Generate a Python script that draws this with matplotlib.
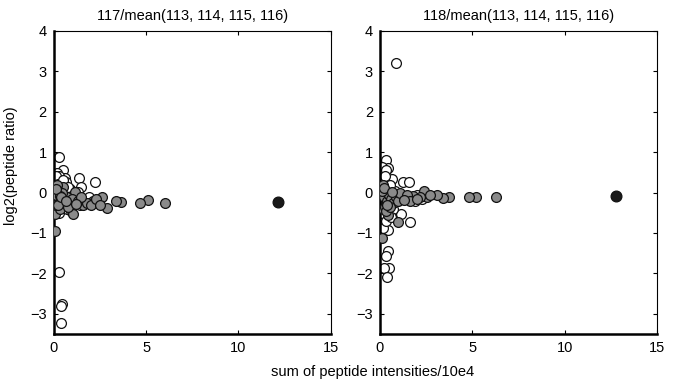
import matplotlib
matplotlib.use("Agg")
import matplotlib.pyplot as plt

plt.rcParams["font.family"] = ["Liberation Sans", "DejaVu Sans"]

# ---- data ----
titles = ["117/mean(113, 114, 115, 116)", "118/mean(113, 114, 115, 116)"]
xticks = [0, 5, 10, 15]
yticks = [-3, -2, -1, 0, 1, 2, 3, 4]

left_open_x = [0.27, 0.48, 0.2, 0.61, 1.35, 2.23, 1.5, 1.3, 0.29, 0.46, 0.37, 0.37,
               0.15, 0.3, 0.35, 0.1, 0.4, 0.6, 0.8, 0.9, 0.25, 0.5, 0.7, 1.0, 1.2, 1.7,
               1.9, 0.15, 0.45, 0.55, 0.65, 1.1, 0.05, 0.3, 0.8, 0.95, 1.4, 2.4, 0.2,
               0.35, 0.1, 0.12, 0.22, 0.38, 0.52, 0.18, 0.28, 0.42, 0.08, 0.6, 0.75]
left_open_y = [0.87, 0.56, 0.49, 0.35, 0.35, 0.25, 0.13, 0.02, -1.97, -2.76, -2.81, -3.22,
               0.3, 0.42, 0.2, 0.1, -0.05, 0.05, -0.1, 0.1, -0.3, -0.35, -0.4, -0.25, -0.15, -0.2,
               -0.1, -0.15, 0.15, -0.2, 0.25, 0.0, -0.4, -0.5, -0.3, -0.45, -0.3, -0.2, 0.0,
               -0.1, 0.4, -0.2, 0.22, -0.28, 0.32, -0.38, 0.05, -0.18, 0.2, -0.25, 0.15]
left_gray_x = [0.09, 0.09, 1.06, 2.86, 6.05, 5.1, 4.65, 3.66, 3.36, 2.59, 2.14, 1.6, 1.15,
               0.52, 0.16, 0.2, 0.3, 0.4, 0.25, 0.5, 0.6, 0.7, 0.85, 1.0, 1.3, 1.8, 2.0, 2.3,
               2.5, 0.35, 0.15, 0.45, 0.1, 0.75, 1.5, 0.22, 0.32, 0.12, 0.42, 0.65, 1.2]
left_gray_y = [-0.95, -0.54, -0.54, -0.39, -0.25, -0.18, -0.25, -0.23, -0.21, -0.12, -0.22,
               -0.31, 0.02, 0.13, 0.19, -0.1, -0.2, -0.25, 0.05, -0.15, -0.3, -0.1, -0.2, -0.15,
               -0.2, -0.25, -0.3, -0.15, -0.3, -0.4, -0.3, 0.0, -0.05, -0.35, -0.1, -0.3,
               -0.08, 0.1, -0.12, -0.2, -0.28]
left_black_x = [12.15]
left_black_y = [-0.24]

right_open_x = [0.85, 0.32, 0.45, 0.09, 0.63, 1.22, 1.58, 1.12, 1.62, 0.45, 0.18, 0.45,
                0.32, 0.5, 0.22, 0.39, 0.1, 0.2, 0.3, 0.15, 0.4, 0.6, 0.8, 1.0, 0.25, 0.5,
                0.7, 0.9, 1.3, 1.6, 2.0, 0.1, 0.3, 0.6, 0.2, 0.35, 1.9, 2.3, 0.12, 0.28,
                0.42, 0.55, 0.18, 0.75]
right_open_y = [3.22, 0.81, 0.6, 0.64, 0.33, 0.25, 0.25, -0.54, -0.72, -0.93, -0.88, -1.44,
                -1.57, -1.87, -1.87, -2.1, 0.45, 0.3, 0.55, 0.15, 0.1, 0.0, 0.05, -0.05, -0.2,
                -0.3, -0.4, -0.2, -0.1, -0.15, -0.05, -0.5, -0.7, -0.6, 0.0, -0.05, -0.2, -0.15,
                0.25, 0.4, -0.25, 0.2, -0.35, -0.1]
right_gray_x = [0.09, 0.99, 0.45, 0.15, 6.3, 5.22, 4.82, 3.74, 3.42, 3.11, 2.52, 2.37, 2.16,
                1.8, 1.26, 0.2, 0.3, 0.4, 0.5, 0.6, 0.7, 0.85, 1.0, 1.1, 1.45, 1.6, 2.0, 2.7,
                0.25, 0.15, 0.35, 0.55, 0.1, 0.22, 0.38, 0.65, 1.3]
right_gray_y = [-1.12, -0.74, -0.55, -0.41, -0.12, -0.1, -0.1, -0.1, -0.14, -0.06, -0.1,
                0.05, -0.1, -0.08, -0.12, -0.1, 0.05, -0.2, -0.05, -0.15, -0.25, -0.1, -0.2,
                0.0, -0.05, -0.2, -0.15, -0.05, -0.35, 0.2, -0.45, -0.35, 0.05, 0.12,
                -0.3, 0.02, -0.18]
right_black_x = [12.79]
right_black_y = [-0.08]

panels = [
    (left_open_x, left_open_y, left_gray_x, left_gray_y, left_black_x, left_black_y),
    (right_open_x, right_open_y, right_gray_x, right_gray_y, right_black_x, right_black_y),
]

fig = plt.figure(figsize=(6.76, 3.84), dpi=100)
axes_rects = [[53.7 / 676, 1 - 334 / 384, 277 / 676, 303 / 384],
              [380 / 676, 1 - 334 / 384, 277 / 676, 303 / 384]]

FS = 10.5
for rect, title, (ox, oy, gx, gy, bx, by) in zip(axes_rects, titles, panels):
    ax = fig.add_axes(rect)
    ax.scatter(ox, oy, s=50, facecolor="white", edgecolor="#111111", linewidths=0.9, zorder=2)
    ax.scatter(gx, gy, s=50, facecolor="#8a8a8a", edgecolor="#111111", linewidths=0.9, zorder=3)
    ax.scatter(bx, by, s=60, facecolor="#1a1a1a", edgecolor="#111111", linewidths=0.9, zorder=4)
    ax.set_xlim(0, 15)
    ax.set_ylim(-3.5, 4)
    ax.set_xticks(xticks)
    ax.set_yticks(yticks)
    ax.tick_params(direction="in", length=3, width=0.8, top=True, right=True,
                   labelsize=FS, pad=5)
    ax.spines["left"].set_linewidth(1.8)
    ax.spines["bottom"].set_linewidth(1.8)
    ax.spines["top"].set_linewidth(0.8)
    ax.spines["right"].set_linewidth(0.8)
    ax.set_title(title, fontsize=FS, pad=8)

fig.text(373 / 676, 1 - 372 / 384, "sum of peptide intensities/10e4", ha="center", va="center",
         fontsize=FS)
fig.text(11 / 676, 1 - 166 / 384, "log2(peptide ratio)", ha="center", va="center",
         rotation=90, fontsize=FS)

fig.savefig("out.png", dpi=100)
